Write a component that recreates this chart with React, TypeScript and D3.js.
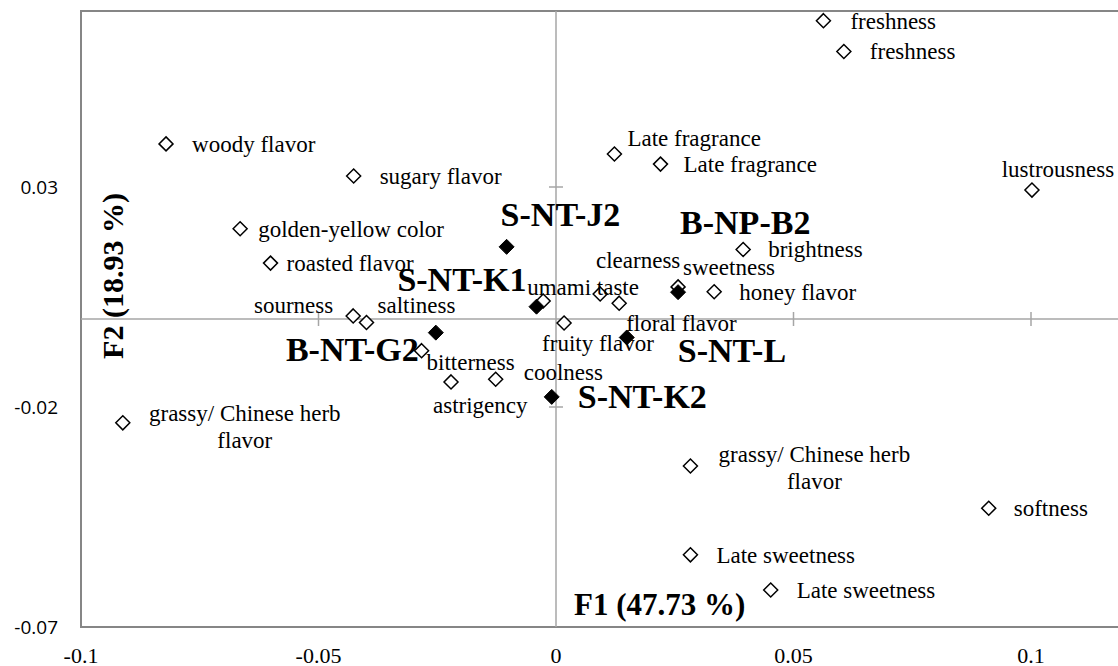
import * as d3 from 'd3';

// attribute points (open diamonds)
const attrNames = [
  'freshness', 'freshness', 'woody flavor', 'sugary flavor', 'Late fragrance', 'Late fragrance',
  'lustrousness', 'golden-yellow color', 'roasted flavor', 'brightness', 'clearness', 'sweetness',
  'honey flavor', 'umami taste', 'floral flavor', 'sourness', 'saltiness', 'fruity flavor',
  'bitterness', 'astrigency', 'coolness', 'grassy/ Chinese herb\nflavor', 'grassy/ Chinese herb\nflavor',
  'softness', 'Late sweetness', 'Late sweetness',
];
const attrF1 = [
  0.0563, 0.0606, -0.0821, -0.0426, 0.0123, 0.022, 0.1002, -0.0665, -0.0601, 0.0394, 0.0093, 0.0257,
  0.0333, -0.0027, 0.0133, -0.0427, -0.0399, 0.0017, -0.0283, -0.0221, -0.0127, -0.0912, 0.0283,
  0.0911, 0.0283, 0.0452,
];
const attrF2 = [
  0.0678, 0.0608, 0.0398, 0.0325, 0.0375, 0.0352, 0.0293, 0.0205, 0.0127, 0.0158, 0.0057, 0.0073,
  0.0062, 0.0041, 0.0036, 0.0007, -0.0008, -0.0009, -0.0072, -0.0143, -0.0137, -0.0236, -0.0334,
  -0.043, -0.0536, -0.0616,
];

// samples (filled diamonds)
const sampleNames = ['S-NT-J2', 'B-NP-B2', 'S-NT-K1', 'B-NT-G2', 'S-NT-L', 'S-NT-K2'];
const sampleF1 = [-0.0104, 0.0257, -0.0041, -0.0253, 0.0149, -0.0009];
const sampleF2 = [0.0164, 0.0061, 0.0028, -0.0031, -0.0042, -0.0177];

const xTicks = [-0.1, -0.05, 0, 0.05, 0.1];
const yTicks = [0.03, -0.02, -0.07];

// label placement relative to the marker: [dx, dy, anchor]
const attrLabelPos: [number, number, string][] = [
  [27, 0, 'start'], [26, 0, 'start'], [26, 0, 'start'], [26, 0, 'start'], [13, -16, 'start'], [23, 0, 'start'],
  [26, -21, 'middle'], [18, 0, 'start'], [16, 0, 'start'], [25, 0, 'start'], [38, -34, 'middle'], [5, -20, 'start'],
  [25, 0, 'start'], [-16, -14, 'start'], [7, 20, 'start'], [-20, -11, 'end'], [11, -18, 'start'], [-22, 20, 'start'],
  [5, 11, 'start'], [-18, 23, 'start'], [28, -7, 'start'], [122, -10, 'middle'], [124, -12, 'middle'],
  [25, 0, 'start'], [26, 0, 'start'], [26, 0, 'start'],
];
const sampleLabelPos: [number, number, string][] = [
  [-6, -32, 'start'], [2, -70, 'start'], [-10, -27, 'end'], [-17, 17, 'end'], [51, 13, 'start'], [26, 0, 'start'],
];

const W = 1118;
const H = 666;
const serif = '"Liberation Serif", "Times New Roman", serif';
const diamond = (r: number) => `M0,${-r}L${r},0L0,${r}L${-r},0Z`;

export default function App() {
  const x = d3.scaleLinear().domain([-0.1, 0.12]).range([81, 1126]);
  const y = d3.scaleLinear().domain([-0.07, 0.07]).range([627, 11]);
  const x0 = x(0);
  const y0 = y(0);

  return (
    <svg width={W} height={H} style={{ position: 'absolute', left: 0, top: 0, background: '#fff' }}>
      {/* plot frame */}
      <rect x={x(-0.1)} y={y(0.07)} width={x(0.12) - x(-0.1)} height={y(-0.07) - y(0.07)}
        fill="none" stroke="#868686" strokeWidth={2} />
      {/* center axes */}
      <line x1={x(-0.1)} x2={x(0.12)} y1={y0} y2={y0} stroke="#a6a6a6" strokeWidth={1.5} />
      <line x1={x0} x2={x0} y1={y(0.07)} y2={y(-0.07)} stroke="#a6a6a6" strokeWidth={1.5} />
      {xTicks.filter((t) => t !== 0 && t !== -0.1).map((t) => (
        <line key={'xt' + t} x1={x(t)} x2={x(t)} y1={y0 - 7} y2={y0 + 7} stroke="#a6a6a6" strokeWidth={1.5} />
      ))}
      {yTicks.filter((t) => t !== -0.07).map((t) => (
        <line key={'yt' + t} x1={x0 - 7} x2={x0 + 7} y1={y(t)} y2={y(t)} stroke="#a6a6a6" strokeWidth={1.5} />
      ))}

      {/* tick labels */}
      {xTicks.map((t) => (
        <text key={'xl' + t} x={x(t)} y={655} textAnchor="middle" dominantBaseline="central"
          fontFamily={serif} fontSize={22} fill="#000">{String(t)}</text>
      ))}
      {yTicks.map((t) => (
        <text key={'yl' + t} x={58} y={y(t)} textAnchor="end" dominantBaseline="central"
          fontFamily='"Open Sans", sans-serif' fontSize={19} fill="#000">{String(t)}</text>
      ))}

      {/* attribute markers + labels */}
      {attrNames.map((name, i) => {
        const px = x(attrF1[i]);
        const py = y(attrF2[i]);
        const [dx, dy, anchor] = attrLabelPos[i];
        const lines = name.split('\n');
        return (
          <g key={'a' + i}>
            <path d={diamond(7)} transform={`translate(${px},${py})`} fill="#fff" stroke="#000" strokeWidth={1.5} />
            <text x={px + dx} y={py + dy} textAnchor={anchor as any} dominantBaseline="central"
              fontFamily={serif} fontSize={23} fill="#000">
              {lines.map((ln, k) => (
                <tspan key={k} x={px + dx} dy={k === 0 ? 0 : 27}>{ln}</tspan>
              ))}
            </text>
          </g>
        );
      })}

      {/* sample markers + labels */}
      {sampleNames.map((name, i) => {
        const px = x(sampleF1[i]);
        const py = y(sampleF2[i]);
        const [dx, dy, anchor] = sampleLabelPos[i];
        return (
          <g key={'s' + i}>
            <path d={diamond(7.5)} transform={`translate(${px},${py})`} fill="#000" stroke="#000" strokeWidth={1} />
            <text x={px + dx} y={py + dy} textAnchor={anchor as any} dominantBaseline="central"
              fontFamily={serif} fontSize={34} fontWeight="bold" fill="#000">{name}</text>
          </g>
        );
      })}

      {/* axis titles */}
      <text x={x0 + 18} y={604} dominantBaseline="central" fontFamily={serif} fontSize={31}
        fontWeight="bold" fill="#000">F1 (47.73 %)</text>
      <text transform={`translate(112,276) rotate(-90)`} textAnchor="middle" dominantBaseline="central"
        fontFamily={serif} fontSize={30} fontWeight="bold" fill="#000">F2 (18.93 %)</text>
    </svg>
  );
}
